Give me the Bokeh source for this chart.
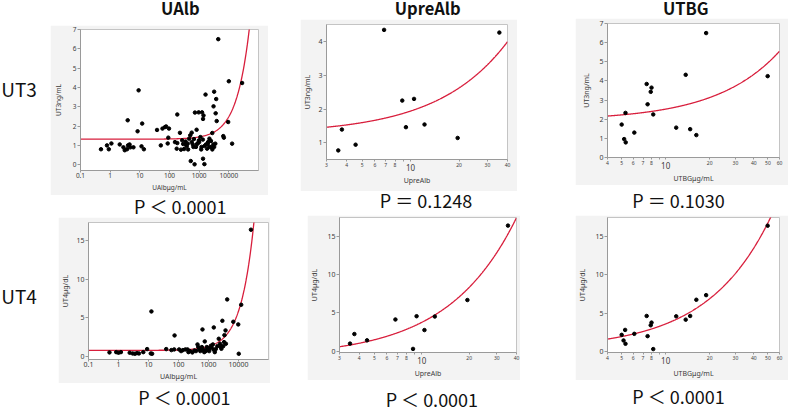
import numpy as np
from bokeh.plotting import figure
from bokeh.layouts import row, column
from bokeh.models import Range1d, FixedTicker, LogAxis, NumeralTickFormatter, Spacer
from bokeh.core.properties import value
from bokeh.embed import file_html
from bokeh.resources import INLINE

# ---------------- data ----------------
col_titles = ["UAlb", "UpreAlb", "UTBG"]
row_titles = ["UT3", "UT4"]
p_top = ["P ＜ 0.0001", "P ＝ 0.1248", "P ＝ 0.1030"]
p_bottom = ["P ＜ 0.0001", "P ＜ 0.0001", "P ＜ 0.0001"]

ualb_ut3_x = [0.49, 0.78, 0.9, 1.1, 2.1, 2.8, 3.1, 3.7, 4.0, 4.5, 4.8, 6.1, 3.9, 8.4, 9.1, 11.4, 12, 13.7,
              38, 51, 58, 71, 77, 87, 96, 91, 183, 183, 175, 225, 243, 290, 310, 350, 380, 410,
              460, 500, 520, 560, 610, 640, 700, 720, 820, 850, 960, 1000, 1100, 1200, 1250, 1350,
              1350, 1400, 1500, 1640, 1700, 1850, 2000, 2200, 2500, 2770, 3050, 3200, 3200, 3500,
              3600, 3750, 3900, 4400, 6500, 6800, 9500, 10000, 12900, 28000,
              153, 268, 354, 424, 560, 669, 780, 908, 980, 1170, 1330, 1510, 1950, 2210, 2510, 2780, 3000]
ualb_ut3_y = [0.8, 1.0, 0.8, 1.1, 1.05, 0.9, 0.75, 0.8, 1.0, 1.05, 0.9, 0.9, 2.3, 1.73, 3.85, 0.95, 2.13, 0.8,
              1.8, 1.0, 1.87, 1.95, 1.98, 1.1, 1.87, 1.4, 2.6, 1.12, 0.83, 1.65, 0.78, 1.07, 0.81, 1.2, 0.95, 1.09,
              1.35, 1.52, 0.19, 1.66, 1.05, 0.92, 0.02, 2.7, 1.81, 1.07, 2.71, 1.17, 1.43, 0.92, 2.71, 2.37,
              0.31, 2.55, 0.03, 3.63, 1.05, 0.83, 1.17, 0.92, 1.23, 1.64, 3.02, 3.78, 0.92, 1.09,
              2.66, 3.4, 2.26, 6.5, 1.48, 1.4, 2.21, 4.32, 1.09, 4.23,
              1.17, 1.26, 1.05, 0.79, 1.17, 1.33, 0.92, 1.12, 1.26, 0.79, 1.30, 0.97, 1.09, 1.35, 0.92, 0.79, 1.05]

ualb_ut4_x = [0.5, 0.84, 1.0, 1.2, 2.36, 2.96, 3.5, 4.1, 4.8, 6.7, 9.0, 11.9, 12.5, 13.2, 39, 58, 74, 72,
              105, 140, 200, 240, 290, 340, 430, 490, 560, 630, 680, 750, 810, 920, 1100, 1250, 1400,
              1500, 1750, 2200, 2550, 2900, 3100, 3400, 3700, 4200, 6700, 9800, 10200, 12300, 26000,
              122, 170, 214, 382, 456, 531, 600, 720, 875, 1050, 1200, 1450, 1620, 1980, 2420, 2690, 3300, 3800]
ualb_ut4_y = [0.56, 0.6, 0.52, 0.6, 0.52, 0.43, 0.39, 0.47, 0.43, 0.6, 0.99, 0.43, 5.84, 0.39, 0.99, 0.86, 2.75, 0.95,
              0.95, 0.86, 0.95, 0.73, 0.56, 0.82, 1.59, 1.03, 0.9, 3.52, 0.9, 1.98, 0.73, 1.03, 1.12, 1.25, 1.59,
              3.78, 0.99, 2.32, 1.25, 4.64, 1.37, 2.79, 3.4, 7.39, 4.51, 4.17, 0.39, 6.7, 16.37,
              0.73, 0.95, 0.6, 0.73, 1.25, 0.73, 1.25, 0.6, 1.25, 0.73, 1.42, 0.95, 0.6, 1.37, 1.68, 1.03, 1.89, 1.68]

upre_ut3_x = [3.55, 3.74, 4.55, 6.84, 8.87, 9.35, 10.5, 12.2, 19.6, 35.6]
upre_ut3_y = [0.77, 1.39, 0.94, 4.35, 2.25, 1.46, 2.30, 1.54, 1.14, 4.27]
upre_ut4_x = [3.5, 3.73, 4.49, 6.8, 8.8, 9.27, 10.4, 12.1, 19.5, 35.3]
upre_ut4_y = [0.99, 2.24, 1.42, 4.14, 0.30, 4.57, 2.76, 4.53, 6.68, 16.4]

utbg_ut3_x = [5.0, 5.2, 5.31, 5.33, 6.1, 7.41, 7.52, 7.9, 8.0, 8.22, 11.8, 13.7, 14.7, 16.2, 18.9, 49.8]
utbg_ut3_y = [1.72, 0.96, 2.33, 0.79, 1.30, 3.84, 2.78, 3.43, 3.65, 2.25, 1.56, 4.32, 1.48, 1.17, 6.50, 4.25]
utbg_ut4_x = [5.0, 5.15, 5.28, 5.31, 6.1, 7.41, 7.52, 7.9, 8.0, 8.22, 11.8, 13.7, 14.7, 16.2, 18.9, 49.8]
utbg_ut4_y = [2.19, 1.46, 2.83, 1.03, 2.32, 4.64, 2.02, 3.43, 3.78, 0.34, 4.59, 4.16, 4.64, 6.74, 7.34, 16.35]

ualb_ticks = [0.1, 1, 10, 100, 1000, 10000]
upre_ticks = [3, 4, 5, 6, 7, 8, 20, 30, 40]
utbg_ticks = [4, 5, 6, 7, 8, 20, 30, 40, 50, 60]
mid_minor = [9, 10]
big_tick = [10]
ut3_ticks_a = [0, 1, 2, 3, 4, 5, 6, 7]
ut3_ticks_b = [1, 2, 3, 4]
ut4_ticks = [0, 5, 10, 15]

# ---------------- styling ----------------
UI = "Noto Sans"
JP = "Noto Sans CJK JP"
GRAY = "#f3f3f3"
AX = "#9a9a9a"
LAB = "#3c3c3c"
RED = "#d81e3c"


def style_axis(ax, fs, tick_out=3, standoff=1):
    ax.axis_line_color = AX
    ax.major_tick_line_color = AX
    ax.minor_tick_line_color = AX
    ax.major_tick_out = tick_out
    ax.major_tick_in = 0
    ax.minor_tick_out = 2
    ax.minor_tick_in = 0
    ax.major_label_text_font = UI
    ax.major_label_text_font_size = fs
    ax.major_label_text_color = LAB
    ax.major_label_standoff = standoff
    ax.axis_label_text_font = UI
    ax.axis_label_text_font_style = "normal"
    ax.axis_label_text_color = LAB


def panel(w, h, borders, xr, yr, xs, ys, xt, split, yt, xlabel, ylabel,
          fs_tick, fs_small, fs_big, fs_label, ylab_standoff):
    l, r, t, b = borders
    p = figure(width=w, height=h, x_axis_type="log", x_range=Range1d(*xr), y_range=Range1d(*yr),
               output_backend="svg", toolbar_location=None, title=None,
               min_border_left=l, min_border_right=r, min_border_top=t, min_border_bottom=b)
    p.background_fill_color = "white"
    p.border_fill_color = GRAY
    p.outline_line_color = "#c4c4c4"
    p.grid.visible = False

    ya = p.yaxis[0]
    ya.ticker = FixedTicker(ticks=yt, minor_ticks=[])
    style_axis(ya, fs_tick, tick_out=3, standoff=1)
    ya.axis_label = ylabel
    ya.axis_label_text_font_size = fs_label
    ya.axis_label_standoff = ylab_standoff

    xa = p.xaxis[0]
    if not split:
        xa.ticker = FixedTicker(ticks=xt, minor_ticks=[])
        xa.formatter = NumeralTickFormatter(format="0.[0]")
        style_axis(xa, fs_tick, tick_out=2, standoff=0)
        xa.axis_label = xlabel
        xa.axis_label_text_font_size = fs_label
        xa.axis_label_standoff = 2
    else:
        xa.ticker = FixedTicker(ticks=xt, minor_ticks=mid_minor)
        xa.formatter = NumeralTickFormatter(format="0")
        style_axis(xa, fs_small, tick_out=2, standoff=1)
        xa.axis_label = None
        xb = LogAxis(ticker=FixedTicker(ticks=big_tick, minor_ticks=[]),
                     formatter=NumeralTickFormatter(format="0"))
        style_axis(xb, fs_big, tick_out=0, standoff=-6)
        xb.axis_line_color = None
        xb.major_tick_line_color = None
        xb.minor_tick_line_color = None
        xb.axis_label = xlabel
        xb.axis_label_text_font_size = fs_label
        xb.axis_label_standoff = 2
        p.add_layout(xb, "below")

    # least-squares straight-line fit y = a + b*x, drawn on the log x scale
    bcoef, acoef = np.polyfit(np.array(xs, float), np.array(ys, float), 1)
    cx = np.logspace(np.log10(xr[0]), np.log10(xr[1]), 400)
    p.line(cx, acoef + bcoef * cx, line_color=RED, line_width=1.3)
    p.scatter(xs, ys, size=3.5, color="black")
    return p


def text_fig(w, h, xs, ys, texts, fs, style="normal", align="center"):
    p = figure(width=w, height=h, x_range=Range1d(0, w), y_range=Range1d(h, 0),
               output_backend="svg", toolbar_location=None, min_border=0, title=None,
               x_axis_location=None, y_axis_location=None)
    p.outline_line_color = None
    p.background_fill_color = "white"
    p.border_fill_color = "white"
    p.grid.visible = False
    p.text(x=xs, y=ys, text=texts, text_font=value(JP), text_font_size=fs,
           text_font_style=style, text_align=align, text_baseline="middle",
           text_color="#111111")
    return p


TFS = "16.5px"
PFS = "18px"

# panels (sizes in px; borders = left, right, top, bottom)
tl = panel(218, 170, (27, 10, 4, 25), (0.1, 1e5), (-0.3, 7.0), ualb_ut3_x, ualb_ut3_y,
           ualb_ticks, False, ut3_ticks_a, "UAlbμg/mL", "UT3ng/mL", "6.5px", None, None, "6.5px", 7)
bl = panel(212, 166, (27, 2, 5, 24), (0.1, 1e5), (-0.35, 17.3), ualb_ut4_x, ualb_ut4_y,
           ualb_ticks, False, ut4_ticks, "UAlbμg/mL", "UT4μg/dL", "7px", None, None, "7px", 3)
tm = panel(217, 172, (25, 10, 5, 32), (3, 40), (0.5, 4.51), upre_ut3_x, upre_ut3_y,
           upre_ticks, True, ut3_ticks_b, "UpreAlb", "UT3ng/mL", "7px", "5px", "8px", "7px", 3)
bm = panel(213, 165, (28, 4, 2, 27), (3, 40), (-0.17, 17.46), upre_ut4_x, upre_ut4_y,
           upre_ticks, True, ut4_ticks, "UpreAlb", "UT4μg/dL", "7px", "5px", "8px", "7px", 5)
tr = panel(213, 167, (23, 9, 5, 26), (4, 60), (0, 7), utbg_ut3_x, utbg_ut3_y,
           utbg_ticks, True, ut3_ticks_a, "UTBGμg/mL", "UT3ng/mL", "7px", "5px", "8px", "7px", 5)
br = panel(213, 165, (27, 5, 2, 27), (4, 60), (-0.1, 17.41), utbg_ut4_x, utbg_ut4_y,
           utbg_ticks, True, ut4_ticks, "UTBGμg/mL", "UT4μg/dL", "7px", "5px", "8px", "7px", 5)

labels = text_fig(50, 408, [18.5, 18.5], [88, 295], row_titles, "19px")

col1 = column(
    text_fig(220, 25, [122], [7], [col_titles[0]], TFS, "bold"),
    tl,
    text_fig(220, 22, [122], [10.5], [p_top[0]], PFS),
    row(Spacer(width=8, height=166), bl),
    text_fig(220, 25, [127], [13], [p_bottom[0]], PFS),
)
col2 = column(
    text_fig(220, 19, [121], [7], [col_titles[1]], TFS, "bold"),
    tm,
    text_fig(220, 24, [119], [8.5], [p_top[1]], PFS),
    row(Spacer(width=7, height=165), bm),
    text_fig(220, 28, [126], [18], [p_bottom[1]], PFS),
)
col3 = column(
    text_fig(213, 18, [97], [7], [col_titles[2]], TFS, "bold"),
    tr,
    text_fig(213, 30, [88], [14.5], [p_top[2]], PFS),
    br,
    text_fig(213, 28, [88], [15], [p_bottom[2]], PFS),
)

layout = row(labels, col1, Spacer(width=30, height=408), col2, Spacer(width=55, height=408), col3)

open("out.html", "w").write(file_html(layout, INLINE))
